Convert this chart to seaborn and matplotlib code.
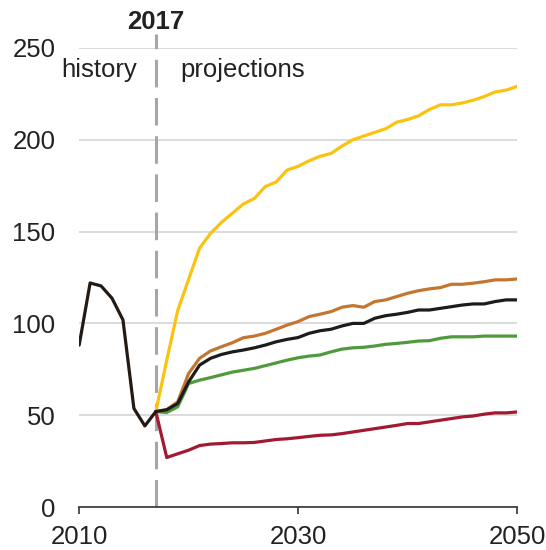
import pandas as pd
import matplotlib
matplotlib.use('Agg')
import matplotlib.pyplot as plt
import seaborn as sns

# History and projection series
hist_years = list(range(2010, 2018))
hist_values = [88.2, 122, 120.4, 113.7, 101.9, 53.7, 44.2, 52]

proj_years = list(range(2017, 2051))
high = [52, 80, 107, 124, 141, 149, 155, 160, 165, 168,
        174.5, 177, 183.5, 185.5, 188.5, 191, 192.5, 196.5, 200, 202,
        204, 206, 209.5, 211, 213, 216.5, 219, 219, 220, 221.5,
        223.5, 226, 227, 229]
upper = [52, 53, 57.3, 72.8, 81, 85, 87.3, 89.5, 92.2, 93.1,
         94.6, 96.8, 99.1, 101, 103.7, 105, 106.4, 108.8, 109.7, 108.8,
         111.9, 112.8, 114.6, 116.4, 117.8, 118.8, 119.5, 121.3, 121.3, 121.9,
         122.7, 123.7, 123.7, 124.2]
reference = [52, 53, 56.4, 68.2, 77.3, 81, 83.1, 84.5, 85.5, 86.7,
             88.2, 90, 91.3, 92.3, 94.6, 96, 96.8, 98.6, 100, 100,
             102.8, 104.2, 105, 106, 107.3, 107.3, 108.2, 109.1, 110, 110.6,
             110.6, 111.9, 112.8, 112.8]
lower = [52, 51.5, 54.6, 67.3, 69.1, 70.5, 72, 73.5, 74.5, 75.5,
         77, 78.5, 80, 81.3, 82.2, 82.8, 84.5, 86, 86.7, 87,
         87.7, 88.6, 89.1, 89.7, 90.4, 90.6, 91.9, 92.7, 92.7, 92.7,
         93.1, 93.1, 93.1, 93.1]
low = [52, 27, 29, 31, 33.5, 34.3, 34.6, 35, 35, 35.2,
       36, 36.8, 37.2, 37.8, 38.5, 39.1, 39.3, 40, 40.9, 41.8,
       42.7, 43.6, 44.5, 45.5, 45.5, 46.4, 47.3, 48.2, 49.1, 49.6,
       50.6, 51.3, 51.3, 51.8]

series_names = ['high', 'low', 'lower', 'upper', 'reference']
series_values = [high, low, lower, upper, reference]
colors = ['#fbc30f', '#a21a32', '#4f9a3c', '#c47530', '#1c1c1c']

rows = []
for name, vals in zip(series_names, series_values):
    for yr, v in zip(proj_years, vals):
        rows.append({'year': yr, 'value': v, 'series': name})
df = pd.DataFrame(rows)
hist_df = pd.DataFrame({'year': hist_years, 'value': hist_values})

sns.set_style("white")
plt.rcParams['font.family'] = ['Liberation Sans', 'DejaVu Sans']

fig = plt.figure(figsize=(5.46, 5.5), dpi=100)
ax = fig.add_axes([0.145, 0.078, 0.802, 0.835])

ax.set_axisbelow(True)
ax.grid(axis='y', color='#d9d9d9', linewidth=1.3)

ax.axvline(2017, ymin=0, ymax=1.03, color='#a6a6a6', linewidth=2.2,
           dashes=(9, 3.5), clip_on=False, zorder=1)

sns.lineplot(data=df, x='year', y='value', hue='series', hue_order=series_names,
             palette=colors, linewidth=2.3, legend=False, ax=ax, zorder=3)
sns.lineplot(data=hist_df, x='year', y='value', color='#231a14',
             linewidth=2.3, ax=ax, zorder=4)

ax.set_xlim(2010, 2050)
ax.set_ylim(0, 250)
ax.set_xticks([2010, 2030, 2050])
ax.set_yticks([0, 50, 100, 150, 200, 250])
ax.set_xlabel('')
ax.set_ylabel('')

for s in ['top', 'right', 'left']:
    ax.spines[s].set_visible(False)
ax.spines['bottom'].set_color('#333333')
ax.spines['bottom'].set_linewidth(1.2)

ax.tick_params(axis='x', length=5, width=1.2, color='#333333', pad=8,
               labelsize=18.5, labelcolor='#222222', direction='out', bottom=True)
ax.tick_params(axis='y', length=0, pad=17, labelsize=18.5, labelcolor='#222222')

ax.text(2011.8, 238, 'history', ha='center', va='center', fontsize=18.5, color='#222222')
ax.text(2024.9, 238, 'projections', ha='center', va='center', fontsize=18.5, color='#222222')
ax.text(2017, 264, '2017', ha='center', va='center', fontsize=18.5,
        fontweight='bold', color='#222222', clip_on=False)

plt.savefig('out.png', dpi=100)
plt.close()
